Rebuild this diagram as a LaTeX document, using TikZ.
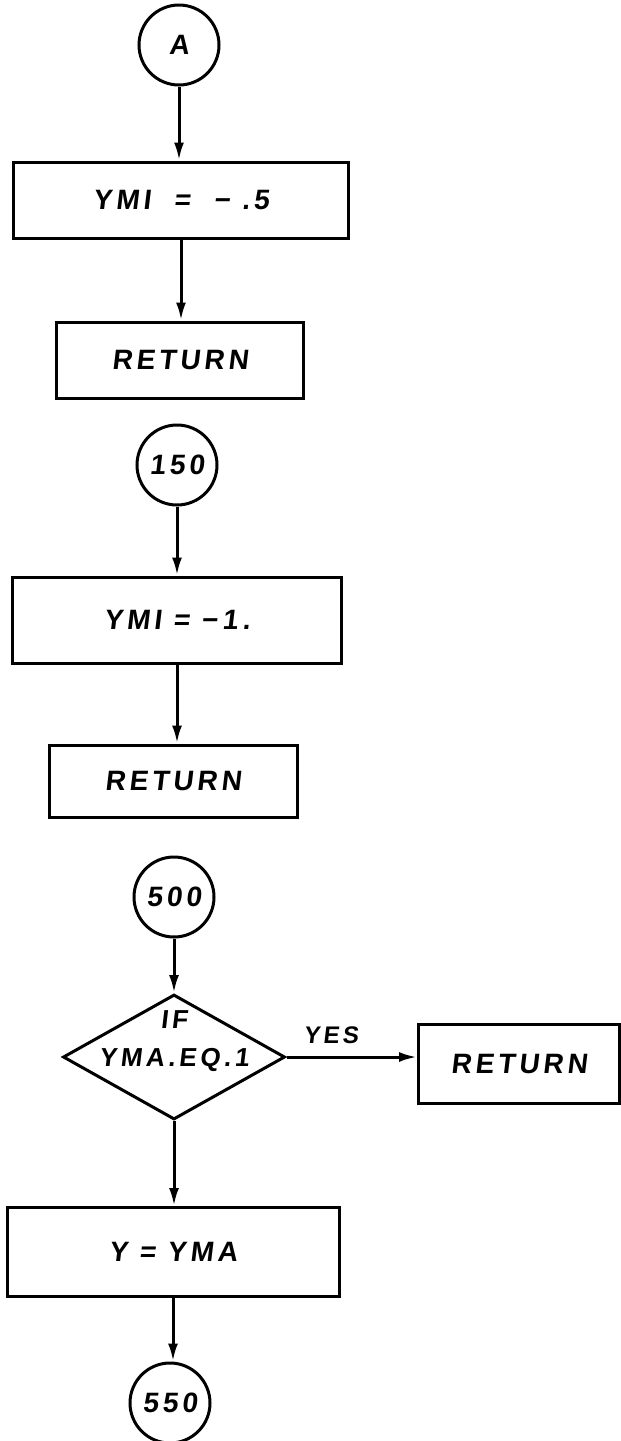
\documentclass[tikz,border=0pt]{standalone}
\usepackage{fontspec}
\newfontfamily\leroy[FakeSlant=0.12,LetterSpace=14,UprightFont=*-Bold]{Liberation Sans}
\usetikzlibrary{shapes.geometric,arrows.meta}
\tikzset{
  conn/.style={circle,draw,line width=3pt,minimum size=80pt,inner sep=0pt},
  proc/.style={rectangle,draw,line width=3pt,inner sep=0pt},
  dec/.style={diamond,draw,line width=3pt,inner sep=0pt,minimum width=222pt,minimum height=125pt},
  flow/.style={line width=3pt,-{Latex[length=18pt,width=10pt]}}
}
\begin{document}
\begin{tikzpicture}[x=1pt,y=-1pt,font=\leroy\fontsize{28}{32}\selectfont]
  \useasboundingbox (0,0) rectangle (621,1441);
  \node[conn] (a) at (179,45) {A};
  \node[proc,minimum width=335pt,minimum height=76pt] (ymi5) at (181,200) {YMI\ \ =\ \ −\ .5};
  \node[proc,minimum width=247pt,minimum height=76pt] (ret1) at (180,360) {RETURN};
  \draw[flow] (a) -- (a |- ymi5.north);
  \draw[flow] (ymi5) -- (ymi5 |- ret1.north);

  \node[conn] (c150) at (177,465) {150};
  \node[proc,minimum width=329pt,minimum height=86pt] (ymi1) at (177,620) {YMI = −\,1\,.};
  \node[proc,minimum width=248pt,minimum height=72pt] (ret2) at (173,781) {RETURN};
  \draw[flow] (c150) -- (c150 |- ymi1.north);
  \draw[flow] (ymi1) -- (ymi1 |- ret2.north);

  \node[conn] (c500) at (174,897) {500};
  \node[dec,label={[align=center,yshift=16pt,font=\leroy\fontsize{26}{38}\selectfont]center:IF\\YMA.EQ.1}] (yma) at (174,1057) {};
  \node[proc,minimum width=201pt,minimum height=79pt] (ret3) at (519,1064) {RETURN};
  \node[proc,minimum width=332pt,minimum height=89pt] (yset) at (173,1252) {Y = YMA};
  \node[conn] (c550) at (170,1403) {550};
  \draw[flow] (c500) -- (c500 |- yma.north);
  \draw[flow] (yma) -- (yma -| ret3.west) node[pos=.34,above=8pt,font=\leroy\fontsize{24}{28}\selectfont] {YES};
  \draw[flow] (yma) -- (yma |- yset.north);
  \draw[flow] (yset) -- (yset |- c550.north);
\end{tikzpicture}
\end{document}
